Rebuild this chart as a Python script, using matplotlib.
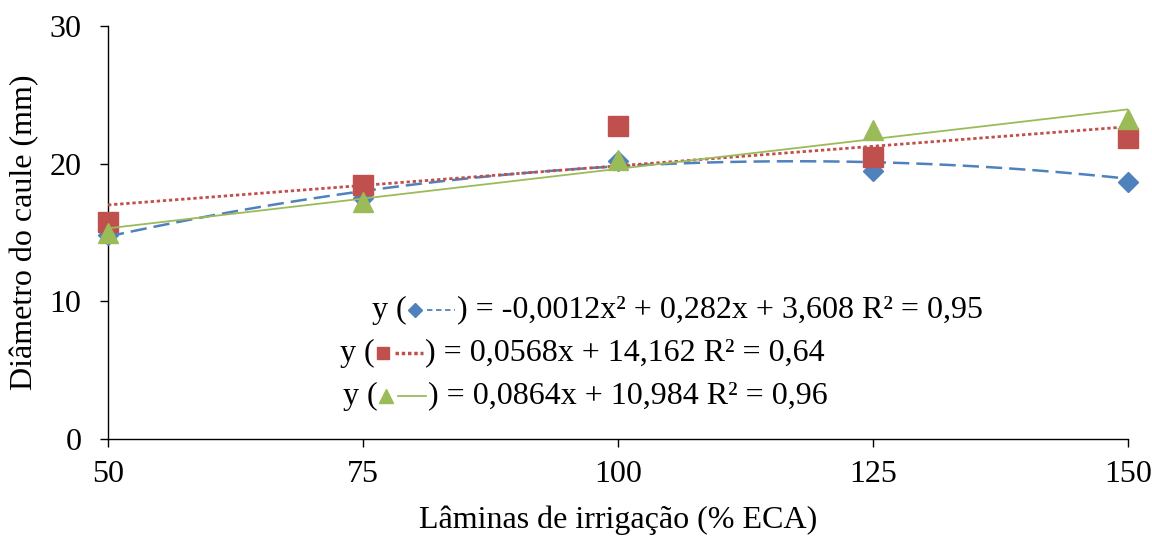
import numpy as np
import matplotlib.pyplot as plt
from matplotlib.lines import Line2D

# irrigation depths (% ECA)
laminas = [50, 75, 100, 125, 150]

# stem diameter (mm)
diam_diamond = [14.8, 17.5, 20.2, 19.5, 18.7]
diam_square = [15.75, 18.45, 22.7, 20.5, 21.85]
diam_triangle = [15.0, 17.2, 20.3, 22.45, 23.25]

# trendline coefficients as printed on the chart (highest power first)
coef_diamond = [-0.0012, 0.282, 3.608]
coef_square = [0.0568, 14.162]
coef_triangle = [0.0864, 10.984]

eq_diamond = ") = -0,0012x² + 0,282x + 3,608 R² = 0,95"
eq_square = ") = 0,0568x + 14,162 R² = 0,64"
eq_triangle = ") = 0,0864x + 10,984 R² = 0,96"

BLUE = '#4F81BD'
RED = '#C0504D'
GREEN = '#9BBB59'

plt.rcParams['font.family'] = ['Liberation Serif', 'DejaVu Serif']
FS = 23

W, H = 1152, 536
fig = plt.figure(figsize=(W / 100, H / 100), dpi=100)
ax = fig.add_axes([108 / W, 1 - 439 / H, (1128 - 108) / W, (439 - 26) / H])

xs = np.linspace(50, 150, 200)

ax.plot(xs, np.polyval(coef_diamond, xs), color=BLUE, lw=1.8, dashes=(6.5, 2.8), zorder=2)
ax.plot(laminas, diam_diamond, ls='none', marker='D', ms=10.5, color=BLUE, zorder=3, clip_on=False)
ax.plot(xs, np.polyval(coef_square, xs), color=RED, lw=2.0, dashes=(1.2, 1.0), zorder=4)
ax.plot(laminas, diam_square, ls='none', marker='s', ms=14, color=RED, zorder=5, clip_on=False)
ax.plot(xs, np.polyval(coef_triangle, xs), color=GREEN, lw=1.3, zorder=6)
ax.plot(laminas, diam_triangle, ls='none', marker='^', ms=14.5, color=GREEN, zorder=7, clip_on=False)

ax.set_xlim(50, 150)
ax.set_ylim(0, 30)
ax.set_xticks(laminas)
ax.set_yticks([0, 10, 20, 30])
ax.spines['top'].set_visible(False)
ax.spines['right'].set_visible(False)
ax.spines['left'].set_linewidth(1.0)
ax.spines['bottom'].set_linewidth(1.0)
ax.tick_params(axis='y', direction='out', length=6, width=1.0, labelsize=FS, pad=13)
ax.tick_params(axis='x', direction='out', length=6, width=1.0, labelsize=FS, pad=9)

fig.text(25 / W, 1 - 232 / H, 'Diâmetro do caule (mm)', rotation=90,
         ha='center', va='center', fontsize=FS)
fig.text(618 / W, 1 - 520 / H, 'Lâminas de irrigação (% ECA)',
         ha='center', va='center', fontsize=FS)

# equation lines with inline marker and line samples
fig.canvas.draw()
renderer = fig.canvas.get_renderer()


def eq_line(x0, y0, marker, ms, color, ls_kw, rest):
    t = fig.text(x0 / W, 1 - y0 / H, 'y (', fontsize=FS, va='center')
    bb = t.get_window_extent(renderer)
    xm = bb.x1 + 8
    fig.add_artist(Line2D([xm / W], [1 - y0 / H], marker=marker, ms=ms, color=color,
                          transform=fig.transFigure))
    xa = xm + 12
    xb = xa + 28
    fig.add_artist(Line2D([xa / W, xb / W], [1 - y0 / H, 1 - y0 / H], color=color,
                          transform=fig.transFigure, **ls_kw))
    fig.text((xb + 2) / W, 1 - y0 / H, rest, fontsize=FS, va='center')


eq_line(372, 310, 'D', 7, BLUE, dict(lw=1.3, dashes=(3, 2)), eq_diamond)
eq_line(340, 353, 's', 9, RED, dict(lw=2.5, dashes=(1, 0.8)), eq_square)
eq_line(343, 396, '^', 10, GREEN, dict(lw=1.3), eq_triangle)

fig.savefig('out.png', dpi=100)
